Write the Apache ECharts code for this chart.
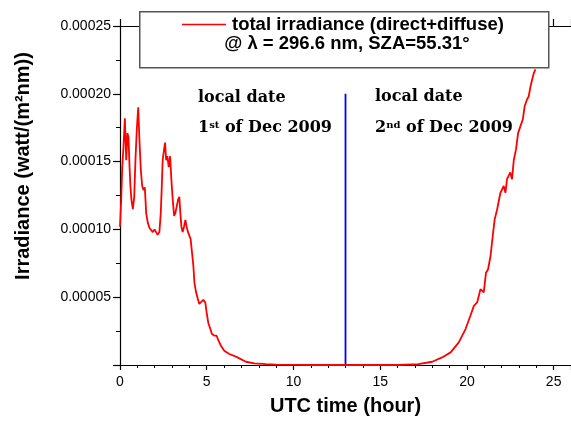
<!DOCTYPE html>
<html>
<head>
<meta charset="utf-8">
<script src="https://cdn.jsdelivr.net/npm/echarts@6/dist/echarts.min.js"></script>
<style>
html,body{margin:0;padding:0;background:#fff;}
#chart{width:571px;height:421px;}
</style>
</head>
<body>
<div id="chart"></div>
<script>
// UTC time (hour) of each sample
const hours = [0.00,0.07,0.13,0.20,0.28,0.36,0.43,0.49,0.55,0.60,0.66,0.74,0.82,0.89,0.97,1.05,1.12,1.20,1.28,1.35,1.43,1.51,1.60,1.70,1.80,1.89,1.99,2.08,2.17,2.27,2.35,2.41,2.46,2.54,2.60,2.66,2.73,2.81,2.89,2.96,3.04,3.12,3.19,3.27,3.35,3.42,3.48,3.54,3.61,3.69,3.77,3.84,3.92,4.00,4.07,4.15,4.23,4.29,4.38,4.48,4.57,4.67,4.80,4.92,4.99,5.09,5.21,5.30,5.44,5.57,5.68,5.82,6.01,6.30,6.58,6.88,7.26,7.74,8.41,9.0,10.0,11.0,12.0,13.0,14.0,15.0,16.08,17.2,18.0,18.57,19.06,19.53,19.92,20.2,20.4,20.59,20.69,20.78,20.88,20.97,21.1,21.22,21.36,21.51,21.6,21.74,21.93,22.12,22.22,22.31,22.5,22.6,22.7,22.83,22.95,23.08,23.22,23.33,23.47,23.56,23.66,23.75,23.85,23.95];
// total irradiance (watt/(m2 nm))
const irradiance = [0.000102,0.000122,0.000146,0.000161,0.000182,0.000151,0.000171,0.000168,0.000146,0.000132,0.000122,0.000115,0.000124,0.000151,0.000174,0.000190,0.000166,0.000144,0.000132,0.000129,0.000131,0.000112,0.000105,0.000101,0.000102,0.000098,0.000100,0.000098,0.000096,0.000098,0.000112,0.000132,0.000151,0.000159,0.000164,0.000151,0.000154,0.000146,0.000154,0.000137,0.000122,0.000110,0.000112,0.000117,0.000122,0.000124,0.000112,0.000102,0.000098,0.000102,0.000107,0.000102,0.000098,0.000098,0.000093,0.000083,0.000073,0.000061,0.000054,0.000049,0.000045,0.000044,0.000048,0.000046,0.000039,0.000031,0.0000265,0.0000228,0.0000216,0.0000216,0.0000179,0.0000142,0.0000105,0.0000081,0.0000068,0.0000049,0.0000024,0.0000012,0.0000007,0.0000003,0.0000001,0,0,0,0,0,0,0.0000007,0.0000024,0.0000056,0.0000093,0.0000167,0.0000265,0.0000363,0.0000436,0.0000461,0.0000461,0.0000559,0.0000559,0.0000535,0.0000681,0.0000706,0.0000804,0.0000976,0.0001074,0.0001147,0.000127,0.000132,0.000127,0.000137,0.000142,0.000137,0.000151,0.000159,0.000171,0.000176,0.000181,0.000191,0.000196,0.000198,0.000205,0.000210,0.000215,0.000218];
// date boundary marker
const boundaryHour = [13, 13];
const boundaryValue = [0, 0.0002];
const seriesName = 'total irradiance (direct+diffuse)';

const chart = echarts.init(document.getElementById('chart'), null, {renderer: 'canvas'});
const SANS = '"Liberation Sans", Arial, sans-serif';
const SERIF = '"DejaVu Serif", "Liberation Serif", serif';

const option = {
  animation: false,
  backgroundColor: '#fff',
  grid: {left: 120, top: 26, width: 452, height: 340, containLabel: false},
  legend: {
    data: [{name: seriesName, icon: 'rect'}],
    left: 182, top: 15, padding: 0,
    itemWidth: 44, itemHeight: 1.5, itemGap: 0,
    textStyle: {fontFamily: SANS, fontWeight: 'bold', fontSize: 18.5, color: '#000', padding: [0,0,0,1]},
    selectedMode: false, z: 20
  },
  xAxis: [{
    type: 'value', min: 0, max: 26, interval: 5,
    name: 'UTC time (hour)', nameLocation: 'middle', nameGap: 31,
    nameTextStyle: {fontFamily: SANS, fontWeight: 'bold', fontSize: 20, color: '#000'},
    axisLine: {show: true, onZero: false, lineStyle: {color: '#000', width: 1.2}},
    axisTick: {show: true, inside: false, length: 5, lineStyle: {color: '#000', width: 1.2}},
    minorTick: {show: true, splitNumber: 5, length: 3, lineStyle: {color: '#000', width: 1}},
    axisLabel: {fontFamily: SANS, fontSize: 14, color: '#000', margin: 10,
      showMaxLabel: false},
    splitLine: {show: false}, minorSplitLine: {show: false}
  }, {
    type: 'value', min: 0, max: 26, interval: 5, position: 'top',
    axisLine: {show: true, onZero: false, lineStyle: {color: '#000', width: 1.2}},
    axisTick: {show: true, inside: false, length: 7, lineStyle: {color: '#000', width: 1.2}},
    axisLabel: {show: false}, splitLine: {show: false}
  }],
  yAxis: {
    type: 'value', min: 0, max: 0.00025, interval: 0.00005,
    axisLine: {show: true, onZero: false, lineStyle: {color: '#000', width: 1.2}},
    axisTick: {show: true, inside: false, length: 7, lineStyle: {color: '#000', width: 1.2}},
    minorTick: {show: true, splitNumber: 2, length: 4, lineStyle: {color: '#000', width: 1}},
    axisLabel: {fontFamily: SANS, fontSize: 14, color: '#000', margin: 9,
      formatter: v => (v === 0 ? '' : v.toFixed(5))},
    splitLine: {show: false}, minorSplitLine: {show: false}
  },
  graphic: [
    {type: 'rect', left: 139, top: 11, z: 10,
     shape: {width: 409, height: 56},
     style: {fill: '#fff', stroke: '#555', lineWidth: 1.5}},
    {type: 'text', x: 347, y: 44, z: 20,
     style: {text: '@ λ = 296.6 nm, SZA=55.31°', font: 'bold 18.5px ' + SANS, fill: '#000',
       align: 'center', verticalAlign: 'middle'}},
    {type: 'text', x: 198, y: 98, z: 20,
     style: {text: 'local date', font: 'bold 16px ' + SERIF, fill: '#000', verticalAlign: 'middle'}},
    {type: 'text', x: 198, y: 128, z: 20,
     style: {text: '{n|1}{s|st}{n| of Dec 2009}', verticalAlign: 'middle',
       rich: {n: {font: 'bold 16px ' + SERIF, fill: '#000', verticalAlign: 'bottom'},
              s: {font: 'bold 10px ' + SERIF, fill: '#000', verticalAlign: 'top', padding: [0,0,6,0]}}}},
    {type: 'text', x: 375, y: 97, z: 20,
     style: {text: 'local date', font: 'bold 16px ' + SERIF, fill: '#000', verticalAlign: 'middle'}},
    {type: 'text', x: 375, y: 128, z: 20,
     style: {text: '{n|2}{s|nd}{n| of Dec 2009}', verticalAlign: 'middle',
       rich: {n: {font: 'bold 16px ' + SERIF, fill: '#000', verticalAlign: 'bottom'},
              s: {font: 'bold 10px ' + SERIF, fill: '#000', verticalAlign: 'top', padding: [0,0,6,0]}}}},
    {type: 'text', x: 23, y: 166, rotation: Math.PI / 2, z: 20,
     style: {text: 'Irradiance (watt/(m²nm))', font: 'bold 20px ' + SANS, fill: '#000',
       align: 'center', verticalAlign: 'middle'}}
  ],
  series: [{
    name: seriesName, type: 'line', showSymbol: false, symbol: 'none',
    data: hours.map((h, i) => [h, irradiance[i]]),
    lineStyle: {color: '#ff0000', width: 1.8}, itemStyle: {color: '#ff0000'},
    clip: true, z: 5
  }, {
    name: 'boundary', type: 'line', showSymbol: false, symbol: 'none',
    data: boundaryHour.map((h, i) => [h, boundaryValue[i]]),
    lineStyle: {color: '#0000ff', width: 1.8}, z: 4
  }]
};
chart.setOption(option);
</script>
</body>
</html>
